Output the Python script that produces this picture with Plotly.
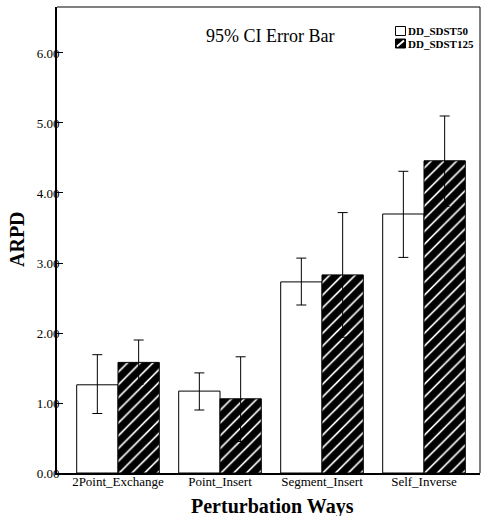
import plotly.graph_objects as go

categories = ["2Point_Exchange", "Point_Insert", "Segment_Insert", "Self_Inverse"]
series_names = ["DD_SDST50", "DD_SDST125"]
sdst50_mean = [1.26, 1.17, 2.73, 3.70]
sdst50_lo = [0.85, 0.90, 2.40, 3.08]
sdst50_hi = [1.69, 1.43, 3.07, 4.31]
sdst125_mean = [1.58, 1.06, 2.83, 4.46]
sdst125_lo = [1.27, 0.45, 1.94, 3.81]
sdst125_hi = [1.90, 1.66, 3.72, 5.10]
y_ticks = [0, 1, 2, 3, 4, 5, 6]
y_tick_text = ["0.00", "1.00", "2.00", "3.00", "4.00", "5.00", "6.00"]

FONT = "Liberation Serif, Times New Roman, Times, serif"

def err(mean, lo, hi):
    return dict(type="data", symmetric=False,
                array=[h - m for h, m in zip(hi, mean)],
                arrayminus=[m - l for m, l in zip(mean, lo)],
                color="black", thickness=1, width=5)

fig = go.Figure()
fig.add_trace(go.Bar(
    x=categories, y=sdst50_mean, name=series_names[0],
    marker=dict(color="white", line=dict(color="black", width=1)),
    error_y=err(sdst50_mean, sdst50_lo, sdst50_hi),
))
fig.add_trace(go.Bar(
    x=categories, y=sdst125_mean, name=series_names[1],
    marker=dict(color="white", line=dict(color="black", width=1),
                pattern=dict(shape="/", fgcolor="black", bgcolor="white",
                             fgopacity=1, fillmode="overlay",
                             size=9, solidity=0.82)),
    error_y=err(sdst125_mean, sdst125_lo, sdst125_hi),
))

# plot area in pixels: x 57..480, y 7..473
L, R, T, B, W, H = 57, 2, 7, 43, 482, 516
PW, PH = W - L - R, H - T - B

def px(x):
    return (x - L) / PW

def py(y):
    return (H - B - y) / PH

shapes = [
    dict(type="line", xref="paper", yref="paper", x0=0, x1=1, y0=1, y1=1,
         line=dict(color="black", width=1)),
    dict(type="line", xref="paper", yref="paper", x0=1, x1=1, y0=0, y1=1,
         line=dict(color="black", width=1)),
    # legend swatches
    dict(type="rect", xref="paper", yref="paper", x0=px(395.5), x1=px(405.5),
         y0=py(35.5), y1=py(26.5), fillcolor="white", line=dict(color="black", width=1)),
    dict(type="rect", xref="paper", yref="paper", x0=px(395.5), x1=px(405.5),
         y0=py(48), y1=py(39), fillcolor="black", line=dict(color="black", width=1)),
    dict(type="line", xref="paper", yref="paper", x0=px(397), x1=px(404),
         y0=py(46.5), y1=py(40.5), line=dict(color="white", width=2)),
]

annotations = [
    dict(text="95% CI Error Bar", xref="paper", yref="paper",
         x=px(270), y=py(36), xanchor="center", yanchor="middle",
         showarrow=False, font=dict(family=FONT, size=18, color="black")),
    dict(text=series_names[0], xref="paper", yref="paper",
         x=px(406), y=py(31), xanchor="left", yanchor="middle", showarrow=False,
         font=dict(family=FONT, size=11, color="black", weight="bold")),
    dict(text=series_names[1], xref="paper", yref="paper",
         x=px(406), y=py(44), xanchor="left", yanchor="middle", showarrow=False,
         font=dict(family=FONT, size=11, color="black", weight="bold")),
    dict(text="Perturbation Ways", xref="paper", yref="paper",
         x=px(272), y=py(506), xanchor="center", yanchor="middle", showarrow=False,
         font=dict(family=FONT, size=20, color="black", weight="bold")),
    dict(text="ARPD", xref="paper", yref="paper", textangle=-90,
         x=px(17), y=py(239), xanchor="center", yanchor="middle", showarrow=False,
         font=dict(family=FONT, size=20, color="black", weight="bold")),
]

fig.update_layout(
    width=W, height=H,
    margin=dict(l=L, r=R, t=T, b=B, autoexpand=False),
    paper_bgcolor="white", plot_bgcolor="white",
    barmode="group", bargap=0.19, bargroupgap=0,
    font=dict(family=FONT, color="black", size=13),
    showlegend=False,
    xaxis=dict(range=[-0.598, 3.549], showgrid=False, zeroline=False,
               showline=True, linecolor="black", linewidth=2, ticks="",
               ticklabelstandoff=-5,
               tickfont=dict(family=FONT, size=13, color="black")),
    yaxis=dict(range=[0, 6.657], showgrid=False, zeroline=False,
               showline=True, linecolor="black", linewidth=2,
               ticks="inside", ticklen=6, tickwidth=1, tickcolor="black",
               tickvals=y_ticks, ticktext=y_tick_text,
               ticklabelstandoff=-7,
               tickfont=dict(family=FONT, size=13, color="black")),
    annotations=annotations,
    shapes=shapes,
)

fig.write_html("out.html", config={"displayModeBar": False},
               post_script="document.body.style.margin='0px';document.body.style.padding='0px';")
